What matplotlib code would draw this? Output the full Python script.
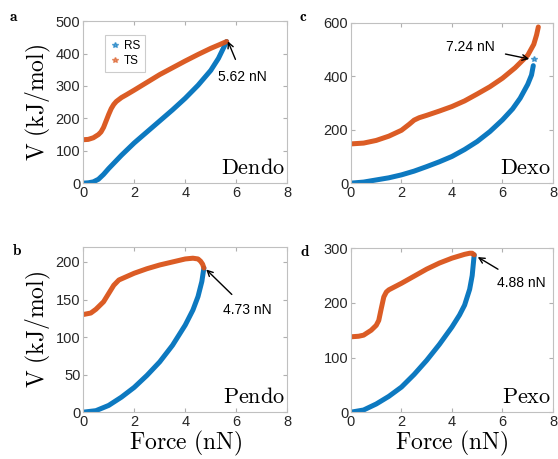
import matplotlib
matplotlib.use('Agg')
import matplotlib.pyplot as plt
from matplotlib.lines import Line2D

plt.rcParams['font.family'] = ['Liberation Sans', 'DejaVu Sans']
plt.rcParams['mathtext.fontset'] = 'cm'

BLUE = '#0072BD'
ORANGE = '#D95319'

# Dendo (a)
a_rs_x = [0.0, 0.2, 0.4, 0.6, 0.8, 1.0, 1.5, 2.0, 2.5, 3.0, 3.5, 4.0, 4.5, 5.0, 5.3, 5.62]
a_rs_y = [0, 1, 4, 12, 27, 45, 86, 124, 158, 192, 226, 262, 302, 348, 385, 437]
a_ts_x = [0.0, 0.2, 0.4, 0.6, 0.7, 0.8, 0.9, 1.0, 1.1, 1.2, 1.3, 1.5, 1.7, 2.0, 2.5, 3.0, 3.5, 4.0, 4.5, 5.0, 5.3, 5.62]
a_ts_y = [134, 135, 140, 150, 158, 172, 192, 212, 230, 243, 252, 264, 273, 287, 311, 335, 356, 377, 397, 416, 426, 437]

# Dexo (c) -- last RS point stands apart from the curve
c_rs_x = [0.0, 0.5, 1.0, 1.5, 2.0, 2.5, 3.0, 3.5, 4.0, 4.5, 5.0, 5.5, 6.0, 6.4, 6.7, 7.0, 7.15, 7.22, 7.24]
c_rs_y = [0, 4, 12, 20, 31, 45, 62, 80, 100, 126, 156, 193, 237, 278, 318, 370, 405, 440, 464]
c_ts_x = [0.0, 0.5, 1.0, 1.5, 2.0, 2.3, 2.5, 2.7, 3.0, 3.5, 4.0, 4.5, 5.0, 5.5, 6.0, 6.5, 7.0, 7.24, 7.35, 7.42]
c_ts_y = [147, 150, 160, 176, 198, 220, 236, 245, 254, 270, 287, 308, 334, 361, 393, 432, 479, 520, 555, 585]

# Pendo (b)
b_rs_x = [0.0, 0.5, 1.0, 1.5, 2.0, 2.5, 3.0, 3.5, 4.0, 4.3, 4.5, 4.65, 4.73]
b_rs_y = [0, 2, 9, 20, 33, 49, 67, 89, 116, 136, 154, 174, 192]
b_ts_x = [0.0, 0.3, 0.5, 0.8, 1.0, 1.2, 1.4, 1.6, 2.0, 2.5, 3.0, 3.5, 4.0, 4.3, 4.5, 4.6, 4.68, 4.73]
b_ts_y = [130, 132, 137, 147, 158, 169, 176, 179, 185, 191, 196, 200, 204, 205, 204, 201, 197, 192]

# Pexo (d)
d_rs_x = [0.0, 0.5, 1.0, 1.5, 2.0, 2.5, 3.0, 3.5, 4.0, 4.3, 4.5, 4.7, 4.8, 4.88]
d_rs_y = [0, 4, 15, 29, 46, 69, 95, 124, 156, 178, 196, 225, 250, 288]
d_ts_x = [0.0, 0.3, 0.5, 0.8, 1.0, 1.1, 1.2, 1.3, 1.4, 1.5, 2.0, 2.5, 3.0, 3.5, 4.0, 4.5, 4.7, 4.8, 4.88]
d_ts_y = [138, 139, 141, 150, 159, 168, 190, 211, 220, 224, 236, 249, 262, 273, 282, 289, 291, 291, 288]

panels = [
    # letter, name, rs, ts, ylim, yticks, annot text, arrow head, text pos, axes rect
    ('a', 'Dendo', (a_rs_x, a_rs_y), (a_ts_x, a_ts_y), 500, [0, 100, 200, 300, 400, 500],
     '5.62 nN', (5.67, 438), (6.25, 328), [0.149, 0.601, 0.366, 0.353]),
    ('c', 'Dexo', (c_rs_x, c_rs_y), (c_ts_x, c_ts_y), 600, [0, 200, 400, 600],
     '7.24 nN', (7.06, 465), (4.72, 511), [0.629, 0.601, 0.362, 0.349]),
    ('b', 'Pendo', (b_rs_x, b_rs_y), (b_ts_x, b_ts_y), 220, [0, 50, 100, 150, 200],
     '4.73 nN', (4.82, 190), (6.45, 136), [0.149, 0.102, 0.366, 0.360]),
    ('d', 'Pexo', (d_rs_x, d_rs_y), (d_ts_x, d_ts_y), 300, [0, 100, 200, 300],
     '4.88 nN', (5.02, 284), (6.75, 236), [0.629, 0.102, 0.362, 0.357]),
]

fig = plt.figure(figsize=(5.58, 4.59), dpi=100)

for letter, name, rs, ts, ymax, yticks, txt, head, tpos, rect in panels:
    ax = fig.add_axes(rect)
    if letter == 'c':
        ax.plot(rs[0][:-1], rs[1][:-1], color=BLUE, lw=3.6, solid_capstyle='round', alpha=0.95)
        ax.plot(rs[0][-1:], rs[1][-1:], ls='none', marker='*', ms=4, color=BLUE, alpha=0.6)
    else:
        ax.plot(rs[0], rs[1], color=BLUE, lw=3.6, solid_capstyle='round', alpha=0.95)
    ax.plot(ts[0], ts[1], color=ORANGE, lw=3.6, solid_capstyle='round', alpha=0.95)
    ax.set_xlim(0, 8)
    ax.set_ylim(0, ymax)
    ax.set_xticks([0, 2, 4, 6, 8])
    ax.set_yticks(yticks)
    ax.tick_params(direction='in', length=3, color='#b0b0b0', labelsize=10.5,
                   labelcolor='#262626', pad=2, top=True, right=True)
    for sp in ax.spines.values():
        sp.set_color('#c0c0c0')
        sp.set_linewidth(0.8)
    ax.text(0.99, 0.025, r'$\mathrm{' + name + '}$', transform=ax.transAxes,
            ha='right', va='bottom', fontsize=16)
    ax.annotate(txt, xy=head, xytext=tpos, ha='center', va='center', fontsize=10,
                arrowprops=dict(arrowstyle='->', color='black', lw=1.0,
                                shrinkA=6, shrinkB=0))
    if letter in ('a', 'b'):
        ax.set_ylabel(r'$\mathrm{V\ (kJ/mol)}$', fontsize=17, labelpad=2)
    if letter in ('b', 'd'):
        ax.set_xlabel(r'$\mathrm{Force\ (nN)}$', fontsize=17, labelpad=0)
    if letter == 'a':
        handles = [Line2D([], [], ls='none', marker='*', ms=4, color=BLUE, alpha=0.6),
                   Line2D([], [], ls='none', marker='*', ms=4, color=ORANGE, alpha=0.6)]
        leg = ax.legend(handles, ['RS', 'TS'], loc='upper left',
                        bbox_to_anchor=(0.08, 0.95), fontsize=8.5, frameon=True,
                        fancybox=False, edgecolor='#c0c0c0', handlelength=0.8,
                        handletextpad=0.4, borderpad=0.4, labelspacing=0.3)
        leg.get_frame().set_linewidth(0.8)

fig.text(0.025, 0.962, r'$\mathbf{a}$', fontsize=11, ha='center', va='center')
fig.text(0.543, 0.962, r'$\mathbf{c}$', fontsize=11, ha='center', va='center')
fig.text(0.030, 0.455, r'$\mathbf{b}$', fontsize=11, ha='center', va='center')
fig.text(0.547, 0.451, r'$\mathbf{d}$', fontsize=11, ha='center', va='center')

fig.savefig('out.png', dpi=100, facecolor='white')
